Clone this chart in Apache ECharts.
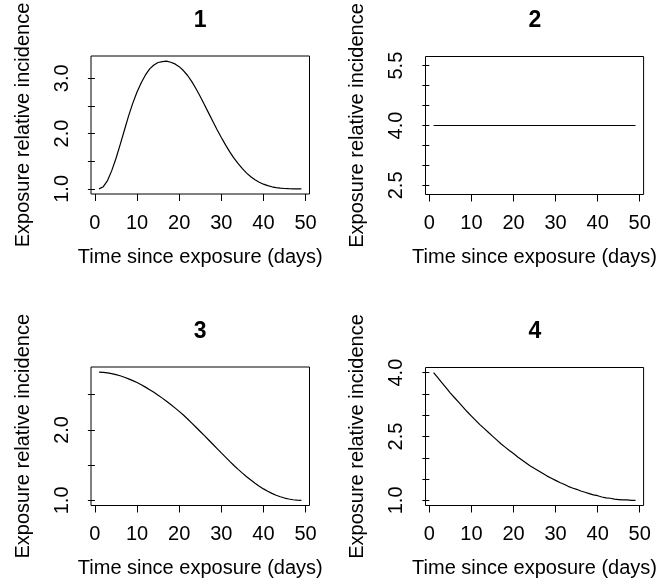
<!DOCTYPE html>
<html>
<head>
<meta charset="utf-8">
<script src="https://cdn.jsdelivr.net/npm/echarts@6/dist/echarts.min.js"></script>
<style>
  html, body { margin: 0; padding: 0; background: #fff; }
  #chart { width: 659px; height: 586px; }
</style>
</head>
<body>
<div id="chart"></div>
<script>
// days since exposure
const days = [1, 2, 3, 4, 5, 6, 7, 8, 9, 10, 11, 12, 13, 14, 15, 16, 17, 18, 19, 20,
  21, 22, 23, 24, 25, 26, 27, 28, 29, 30, 31, 32, 33, 34, 35, 36, 37, 38, 39, 40,
  41, 42, 43, 44, 45, 46, 47, 48, 49]

// relative incidence, one array per panel
const incidence1 = [1.00, 1.04, 1.15, 1.33, 1.55, 1.80, 2.06, 2.32, 2.55, 2.75,
  2.92, 3.06, 3.17, 3.24, 3.285, 3.30, 3.31, 3.29, 3.26, 3.21,
  3.14, 3.05, 2.94, 2.81, 2.67, 2.52, 2.37, 2.22, 2.07, 1.93,
  1.795, 1.67, 1.555, 1.455, 1.365, 1.285, 1.22, 1.165, 1.12, 1.085,
  1.058, 1.038, 1.023, 1.013, 1.007, 1.003, 1.001, 1.00, 1.00]
const incidence2 = [4, 4, 4, 4, 4, 4, 4, 4, 4, 4, 4, 4, 4, 4, 4, 4, 4, 4, 4, 4,
  4, 4, 4, 4, 4, 4, 4, 4, 4, 4, 4, 4, 4, 4, 4, 4, 4, 4, 4, 4,
  4, 4, 4, 4, 4, 4, 4, 4, 4]
const incidence3 = [2.820, 2.817, 2.810, 2.799, 2.785, 2.768, 2.748, 2.725, 2.700, 2.672,
  2.641, 2.607, 2.571, 2.533, 2.493, 2.451, 2.407, 2.361, 2.313, 2.263,
  2.211, 2.155, 2.097, 2.038, 1.978, 1.918, 1.857, 1.796, 1.735, 1.674,
  1.614, 1.554, 1.495, 1.440, 1.387, 1.336, 1.288, 1.243, 1.201, 1.163,
  1.129, 1.099, 1.073, 1.051, 1.033, 1.019, 1.009, 1.003, 1.000]
const incidence4 = [4.00, 3.88, 3.76, 3.64, 3.52, 3.41, 3.30, 3.19, 3.08, 2.98,
  2.88, 2.78, 2.69, 2.60, 2.51, 2.42, 2.33, 2.25, 2.17, 2.10,
  2.02, 1.95, 1.88, 1.81, 1.75, 1.69, 1.63, 1.57, 1.52, 1.47,
  1.42, 1.38, 1.33, 1.29, 1.26, 1.22, 1.19, 1.16, 1.13, 1.11,
  1.08, 1.06, 1.05, 1.03, 1.02, 1.01, 1.01, 1.00, 1.00]

// tick positions and labelled ticks
const xTicks = [0, 10, 20, 30, 40, 50]
const yTicks1 = [1.0, 1.5, 2.0, 2.5, 3.0]
const yLabels1 = [1.0, 2.0, 3.0]
const yTicks2 = [2.5, 3.0, 3.5, 4.0, 4.5, 5.0, 5.5]
const yLabels2 = [2.5, 4.0, 5.5]
const yTicks3 = [1.0, 1.5, 2.0, 2.5]
const yLabels3 = [1.0, 2.0]
const yTicks4 = [1.0, 1.5, 2.0, 2.5, 3.0, 3.5, 4.0]
const yLabels4 = [1.0, 2.5, 4.0]
const titles = ['1', '2', '3', '4']

const xName = 'Time since exposure (days)'
const yName = 'Exposure relative incidence'

// R style axis range: 4% padding, constant data widened by 40%
function rRange (vals) {
  let lo = Math.min.apply(null, vals)
  let hi = Math.max.apply(null, vals)
  if (lo === hi) {
    lo = lo - 0.4 * Math.abs(lo)
    hi = hi + 0.4 * Math.abs(hi)
  }
  const pad = (hi - lo) * 0.04
  return [lo - pad, hi + pad]
}

const panels = [
  { data: incidence1, ticks: yTicks1, labels: yLabels1, grid: { left: 91, top: 56, width: 218.5, height: 138 } },
  { data: incidence2, ticks: yTicks2, labels: yLabels2, grid: { left: 425.5, top: 56.5, width: 219, height: 138 } },
  { data: incidence3, ticks: yTicks3, labels: yLabels3, grid: { left: 91, top: 367, width: 218.5, height: 138.5 } },
  { data: incidence4, ticks: yTicks4, labels: yLabels4, grid: { left: 425.5, top: 367.5, width: 219, height: 138 } }
]

const font = 'Liberation Sans, Arial, sans-serif'
const chart = echarts.init(document.getElementById('chart'), null, { renderer: 'canvas' })

const grid = []
const xAxis = []
const yAxis = []
const series = []
const title = []
const xr = rRange(days)

panels.forEach(function (p, i) {
  const g = p.grid
  grid.push({
    left: g.left,
    top: g.top,
    width: g.width,
    height: g.height,
    show: true,
    borderColor: '#000',
    borderWidth: 1,
    backgroundColor: 'transparent'
  })
  title.push({
    text: titles[i],
    left: g.left + g.width / 2,
    top: g.top - 47,
    textAlign: 'center',
    padding: 0,
    textStyle: { fontFamily: font, fontSize: 23, fontWeight: 'bold', color: '#000' }
  })
  const yr = rRange(p.data)
  xAxis.push({
    type: 'value',
    gridIndex: i,
    min: xr[0],
    max: xr[1],
    name: xName,
    nameLocation: 'middle',
    nameGap: 53,
    nameTextStyle: { fontFamily: font, fontSize: 20, color: '#000' },
    axisLine: { show: false },
    axisTick: { show: true, length: 7, customValues: xTicks, lineStyle: { color: '#000', width: 1 } },
    axisLabel: { customValues: xTicks, margin: 19, fontFamily: font, fontSize: 20, color: '#000' },
    splitLine: { show: false }
  })
  yAxis.push({
    type: 'value',
    gridIndex: i,
    min: yr[0],
    max: yr[1],
    name: yName,
    nameLocation: 'middle',
    nameGap: 58,
    nameTextStyle: { fontFamily: font, fontSize: 20, color: '#000' },
    axisLine: { show: false },
    axisTick: { show: true, length: 7, customValues: p.ticks, lineStyle: { color: '#000', width: 1 } },
    axisLabel: {
      customValues: p.labels,
      rotate: 90,
      margin: 19,
      fontFamily: font,
      fontSize: 20,
      color: '#000',
      formatter: function (v) { return v.toFixed(1) }
    },
    splitLine: { show: false }
  })
  series.push({
    type: 'line',
    xAxisIndex: i,
    yAxisIndex: i,
    data: days.map(function (d, k) { return [d, p.data[k]] }),
    showSymbol: false,
    symbol: 'none',
    silent: true,
    lineStyle: { color: '#000', width: 1.2 }
  })
})

const option = {
  animation: false,
  backgroundColor: '#fff',
  title: title,
  grid: grid,
  xAxis: xAxis,
  yAxis: yAxis,
  series: series
}
chart.setOption(option)
</script>
</body>
</html>
